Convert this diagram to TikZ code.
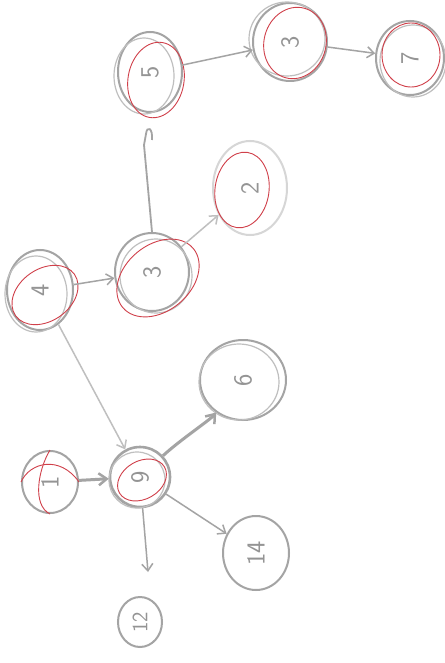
\documentclass[tikz,border=0pt]{standalone}
\usepackage{graphicx}
\usetikzlibrary{shapes.geometric,arrows.meta}
\definecolor{pencil}{HTML}{A4A4A4}
\definecolor{redpen}{HTML}{D0404A}
\tikzset{
  vtx/.style={ellipse, draw=pencil, line width=2pt, inner sep=0pt, text=pencil!90!black, font=\sffamily\fontsize{26}{28}\selectfont},
  redring/.style={draw=redpen, line width=0.9pt},
  pencilring/.style={draw=pencil!70, line width=1.2pt},
  edge/.style={draw=pencil, line width=1.5pt, -{Straight Barb[length=7pt,width=11pt,line width=1.5pt]}},
  thickedge/.style={draw=pencil, line width=3pt, -{Straight Barb[length=8pt,width=12pt,line width=2.5pt]}},
}
\begin{document}
\begin{tikzpicture}[x=1pt,y=-1pt]
\useasboundingbox (0,0) rectangle (444,663);
\fill[white] (0,0) rectangle (444,663);
% nodes
\node[vtx, minimum width=64pt, minimum height=80pt] (n5) at (150,72) {\rotatebox{90}{5}};
\node[vtx, minimum width=74pt, minimum height=78pt] (n3t) at (290,42) {\rotatebox{90}{3}};
\node[vtx, minimum width=68pt, minimum height=74pt] (n7) at (410,58) {\rotatebox{90}{7}};
\node[vtx, minimum width=66pt, minimum height=80pt] (n4) at (40,290) {\rotatebox{90}{4}};
\node[vtx, minimum width=74pt, minimum height=78pt] (n3) at (152,272) {\rotatebox{90}{3}};
\node[vtx, draw=pencil!45, minimum width=74pt, minimum height=94pt] (n2) at (250,188) {\rotatebox{90}{2}};
\node[vtx, minimum width=86pt, minimum height=80pt] (n6) at (243,380) {\rotatebox{90}{6}};
\node[vtx, minimum width=56pt, minimum height=62pt] (n1) at (50,482) {\rotatebox{90}{1}};
\node[vtx, line width=2.6pt, minimum width=60pt, minimum height=60pt] (n9) at (140,477) {\rotatebox{90}{9}};
\node[vtx, minimum width=66pt, minimum height=74pt] (n14) at (256,553) {\rotatebox{90}{14}};
\node[vtx, minimum width=44pt, minimum height=50pt, font=\sffamily\fontsize{22}{24}\selectfont] (n12) at (140,622) {\rotatebox{90}{12}};
% extra pencil strokes
\draw[pencilring] ([shift={(-6,4)}]n5.center) ellipse [x radius=30, y radius=38];
\draw[pencilring] ([shift={(-3,-3)}]n3t.center) ellipse [x radius=38, y radius=37];
\draw[pencilring] ([shift={(3,3)}]n7.center) ellipse [x radius=33, y radius=36];
\draw[pencilring] ([shift={(-4,4)}]n4.center) ellipse [x radius=31, y radius=38];
\draw[pencilring] ([shift={(4,4)}]n3.center) ellipse [x radius=36, y radius=37];
\draw[pencilring] ([shift={(-4,2)}]n6.center) ellipse [x radius=40, y radius=38];
\draw[pencilring] ([shift={(-3,3)}]n9.center) ellipse [x radius=28, y radius=28];
% red rings
\draw[redring] ([shift={(6,8)}]n5.center) ellipse [x radius=28, y radius=38, rotate=-10];
\draw[redring] ([shift={(5,1)}]n3t.center) ellipse [x radius=31, y radius=36, rotate=-15];
\draw[redring] ([shift={(1,-3)}]n7.center) ellipse [x radius=29, y radius=32];
\draw[redring] ([shift={(5,5)}]n4.center) ellipse [x radius=36, y radius=26, rotate=35];
\draw[redring] ([shift={(6,6)}]n3.center) ellipse [x radius=46, y radius=33, rotate=40];
\draw[redring] ([shift={(-8,2)}]n2.center) ellipse [x radius=27, y radius=38, rotate=-8];
\draw[redring] ([shift={(2,3)}]n9.center) ellipse [x radius=26, y radius=19, rotate=30];
\draw[redring] (n1.north) .. controls (38,470) and (32,505) .. (n1.south);
\draw[redring] (n1.west) .. controls (30,462) and (60,455) .. (n1.east);
% connectors
\draw[edge] (n5) -- (n3t);
\draw[edge] (n3t) -- (n7);
\draw[edge] (n4) -- (n3);
\draw[edge, draw=pencil!70] (n3) -- (n2);
\coordinate (hk) at (146,134);
\draw[draw=pencil, line width=1.8pt] (n3.north) -- (144,145) -- (hk) .. controls (147,125) and (153,128) .. (152,140);
\draw[edge, draw=pencil!70] (n4) -- (n9);
\draw[thickedge] (n1) -- (n9);
\draw[thickedge] (n9) .. controls (180,440) and (210,420) .. (n6);
\draw[edge] (n9) -- (n14);
\coordinate (e12) at (148,572);
\draw[edge] (n9) -- (e12);
\end{tikzpicture}
\end{document}
